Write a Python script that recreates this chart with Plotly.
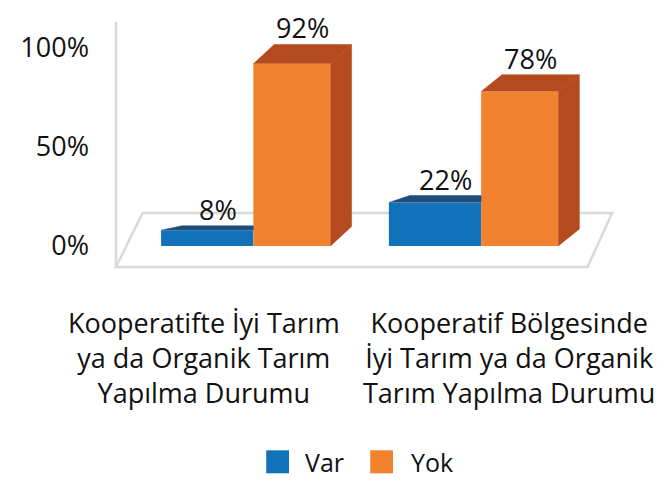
import plotly.graph_objects as go

# ---------------- data ----------------
categories = [
    "Kooperatifte İyi Tarım<br>ya da Organik Tarım<br>Yapılma Durumu",
    "Kooperatif Bölgesinde<br>İyi Tarım ya da Organik<br>Tarım Yapılma Durumu",
]
series_names = ["Var", "Yok"]
var_values = [8, 22]
yok_values = [92, 78]
y_tick_vals = [0, 50, 100]
y_tick_text = ["0%", "50%", "100%"]

# ---------------- style (window pixel space) ----------------
W, H = 665, 484
BODY = 8                # default page body margin that offsets the figure
ML, MR, MT, MB = 107, 35, 20, 214
PX_PER_X = 230.0
X0_PX = 249.7           # pixel position of category 0 centre
PX_PER_Y = 1.98
Y0_PX = 246.0           # pixel position of value 0
FONT = "Open Sans"
TXT = "#111111"
GRAY = "#D9D9D9"

front_cols = ["#1172BA", "#F08230"]
dark_cols = ["#1F4E7A", "#B54A1F"]
bar_widths = [0.405, 0.34]
bar_offsets = [-0.405, 0.0]
DX = 21 / PX_PER_X      # depth offset (x, category units)


def depth_dy(v):
    # depth offset (y, data units) – grows with bar height like the perspective view
    return 1.5 + 0.09 * v


plot_w = W - ML - MR
plot_h = H - MT - MB
x_range = [(ML - X0_PX) / PX_PER_X, (ML + plot_w - X0_PX) / PX_PER_X]
y_range = [(Y0_PX - (MT + plot_h)) / PX_PER_Y, (Y0_PX - MT) / PX_PER_Y]

series_vals = [var_values, yok_values]
cat_x = list(range(len(categories)))

fig = go.Figure()

# front faces as real bars
for s, name in enumerate(series_names):
    fig.add_trace(go.Bar(
        x=cat_x, y=series_vals[s], name=name,
        width=bar_widths[s], offset=bar_offsets[s],
        marker=dict(color=front_cols[s], line=dict(width=0)),
        showlegend=False, hoverinfo="skip",
    ))

# 3D top / side faces derived from the values
for s in range(len(series_names)):
    tx, ty, sx, sy = [], [], [], []
    for i in cat_x:
        v = series_vals[s][i]
        dy = depth_dy(v)
        xl = i + bar_offsets[s]
        xr = xl + bar_widths[s]
        nxt = series_vals[s + 1][i] if s + 1 < len(series_names) else None
        hidden_right = nxt is not None and nxt >= v + dy
        if hidden_right:
            tx += [xl, xl + DX, xr, xr, None]
            ty += [v, v + dy, v + dy, v, None]
        else:
            tx += [xl, xl + DX, xr + DX, xr, None]
            ty += [v, v + dy, v + dy, v, None]
            sx += [xr, xr, xr + DX, xr + DX, None]
            sy += [0, v, v + dy, dy, None]
    for xs, ys in ((tx, ty), (sx, sy)):
        if xs:
            fig.add_trace(go.Scatter(
                x=xs, y=ys, mode="lines", fill="toself",
                fillcolor=dark_cols[s], line=dict(color=dark_cols[s], width=0.5),
                showlegend=False, hoverinfo="skip",
            ))

annotations = []

# value labels
for s in range(len(series_names)):
    for i in cat_x:
        v = series_vals[s][i]
        annotations.append(dict(
            xref="x", yref="y",
            x=i + bar_offsets[s] + bar_widths[s] / 2 + DX / 2,
            y=v + depth_dy(v), yshift=-4,
            xanchor="center", yanchor="bottom", showarrow=False,
            text=f"{v}%", font=dict(family=FONT, size=27, color=TXT),
        ))

# floor and wall edge (chart decoration)
fl, bl, br, fr = -0.603, -0.486, 1.575, 1.467
yf, yb, ytop = -10.6, 16.7, 113.1
shapes = [
    dict(type="path", xref="x", yref="y", layer="below",
         path=f"M{fl},{yf} L{bl},{yb} L{br},{yb} L{fr},{yf} Z",
         fillcolor="white", line=dict(color=GRAY, width=2.5)),
    dict(type="line", xref="x", yref="y", layer="below",
         x0=fl, x1=fl, y0=yf, y1=ytop, line=dict(color=GRAY, width=2.5)),
]


def px2paper_x(px):
    return (px - ML) / plot_w


def px2paper_y(py):
    return (MT + plot_h - py) / plot_h


# manual legend
legend_items = [(262.7, 300, 0), (367.7, 406.7, 1)]
for sq_x, txt_x, s in legend_items:
    shapes.append(dict(type="rect", xref="paper", yref="paper",
                       x0=px2paper_x(sq_x), x1=px2paper_x(sq_x + 23),
                       y0=px2paper_y(473.3), y1=px2paper_y(450.3),
                       fillcolor=front_cols[s], line=dict(width=0)))
    annotations.append(dict(xref="paper", yref="paper", x=px2paper_x(txt_x),
                            y=px2paper_y(462), xanchor="left", yanchor="middle",
                            text=series_names[s], showarrow=False,
                            font=dict(family=FONT, size=25, color=TXT)))

# category labels
cat_label_x = [-0.2165, 1.123]
for i, lab in enumerate(categories):
    annotations.append(dict(xref="x", yref="paper", x=cat_label_x[i],
                            y=px2paper_y(358), xanchor="center", yanchor="middle",
                            text=lab, showarrow=False, align="center",
                            font=dict(family=FONT, size=27, color=TXT)))

fig.update_layout(
    width=W - BODY, height=H - BODY,
    margin=dict(l=ML - BODY, r=MR, t=MT - BODY, b=MB),
    paper_bgcolor="white", plot_bgcolor="white",
    barmode="overlay", showlegend=False,
    shapes=shapes, annotations=annotations,
    xaxis=dict(range=x_range, showgrid=False, zeroline=False,
               showticklabels=False, showline=False, fixedrange=True),
    yaxis=dict(range=y_range, showgrid=False, zeroline=False, showline=False,
               tickvals=y_tick_vals, ticktext=y_tick_text, ticks="",
               ticklabelstandoff=22,
               tickfont=dict(family=FONT, size=27, color=TXT), fixedrange=True),
)

fig.write_html("out.html")
